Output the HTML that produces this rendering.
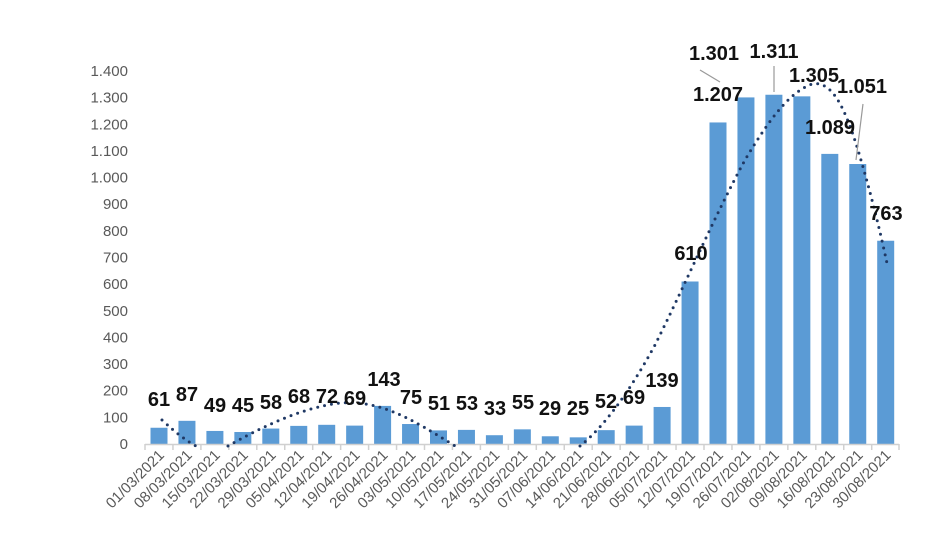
<!DOCTYPE html>
<html><head><meta charset="utf-8"><style>
body{margin:0;background:#fff;}
svg{display:block;font-family:"Liberation Sans",sans-serif;}
.y{font-size:15px;fill:#595959;text-anchor:end;}
.x{font-size:15px;fill:#595959;text-anchor:end;}
.l{font-size:20px;font-weight:bold;fill:#111;text-anchor:middle;}
</style></head><body>
<svg width="940" height="558" viewBox="0 0 940 558">
<g id="ya"></g>
<g id="bars"></g>
<line x1="145" y1="444.5" x2="899" y2="444.5" stroke="#d0d0d0" stroke-width="1.5"/>
<g id="ticks"></g>
<path d="M162,420 C175,432 185,440 196,446 M228,446 C260,428 300,408 340,403 C380,400 410,418 455,446 M580,446 C600,430 625,400 655,345 C685,285 715,215 745,160 C770,118 790,92 812,84 C832,80 845,108 858,150 C870,190 880,230 888,268" fill="none" stroke="#1f3864" stroke-width="3" stroke-linecap="round" stroke-dasharray="0 7"/>
<line x1="700" y1="70" x2="720" y2="82" stroke="#999" stroke-width="1.2"/>
<line x1="774" y1="66" x2="774" y2="92" stroke="#999" stroke-width="1.2"/>
<line x1="863" y1="104" x2="856" y2="160" stroke="#999" stroke-width="1.2"/>
<g id="labels"></g>
</svg>
<script>
var v=[61,87,49,45,58,68,72,69,143,75,51,53,33,55,29,25,52,69,139,610,1207,1301,1311,1305,1089,1051,763];
var d=["01/03/2021","08/03/2021","15/03/2021","22/03/2021","29/03/2021","05/04/2021","12/04/2021","19/04/2021","26/04/2021","03/05/2021","10/05/2021","17/05/2021","24/05/2021","31/05/2021","07/06/2021","14/06/2021","21/06/2021","28/06/2021","05/07/2021","12/07/2021","19/07/2021","26/07/2021","02/08/2021","09/08/2021","16/08/2021","23/08/2021","30/08/2021"];
var L=[[159,406,"61"],[187,401,"87"],[215,412,"49"],[243,412,"45"],[271,409,"58"],[299,403,"68"],[327,403,"72"],[355,405,"69"],[384,386,"143"],[411,404,"75"],[439,410,"51"],[467,410,"53"],[495,415,"33"],[523,409,"55"],[550,415,"29"],[578,415,"25"],[606,408,"52"],[634,404,"69"],[662,387,"139"],[691,260,"610"],[718,101,"1.207"],[714,60,"1.301"],[774,58,"1.311"],[814,82,"1.305"],[830,134,"1.089"],[862,93,"1.051"],[886,220,"763"]];
var ns="http://www.w3.org/2000/svg";
function el(g,t,a,txt){var e=document.createElementNS(ns,t);for(var k in a)e.setAttribute(k,a[k]);if(txt)e.textContent=txt;document.getElementById(g).appendChild(e);}
var k=26.64;
for(var i=0;i<=14;i++){var s=i==0?"0":(i*100>=1000?"1."+String(i*100-1000).padStart(3,"0"):String(i*100));el("ya","text",{x:128,y:444-i*k+5,"class":"y"},s);}
for(var i=0;i<27;i++){var c=159+i*27.95;var h=v[i]*k/100;
el("bars","rect",{x:c-8.5,y:444-h,width:17,height:h,fill:"#5b9bd5"});
el("ticks","line",{x1:c-14,y1:444,x2:c-14,y2:450,stroke:"#d0d0d0","stroke-width":1.5});
el("ticks","text",{x:c+6,y:456,"class":"x",transform:"rotate(-45 "+(c+6)+" 456)"},d[i]);}
el("ticks","line",{x1:899,y1:444,x2:899,y2:450,stroke:"#d0d0d0","stroke-width":1.5});
L.forEach(function(a){el("labels","text",{x:a[0],y:a[1],"class":"l"},a[2]);});
</script>
</body></html>
